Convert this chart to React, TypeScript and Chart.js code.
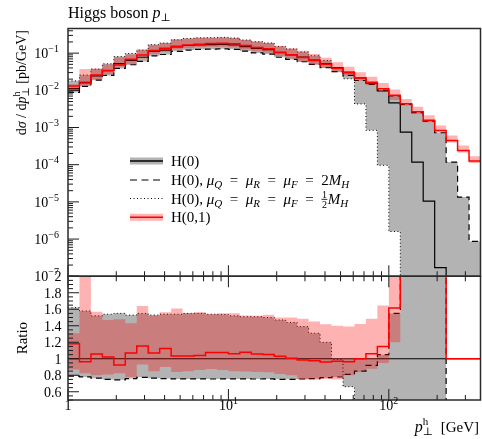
import React, { useEffect, useRef } from 'react';
import { Chart, registerables } from 'chart.js';

Chart.register(...registerables);

// ---------------- data ----------------
// bin edges of the Higgs p_T histogram [GeV] (log-spaced)
const binEdges = [
  1, 1.1788, 1.3895, 1.6379, 1.9307, 2.2758, 2.6827, 3.1623, 3.7276, 4.394, 5.1795, 6.1054, 7.1969, 8.4834,
  10, 11.788, 13.895, 16.379, 19.307, 22.758, 26.827, 31.623, 37.276, 43.94, 51.795, 61.054, 71.969, 84.834,
  100, 117.88, 138.95, 163.79, 193.07, 227.58, 268.27, 316.23, 372.76,
];

// H(0) central  [pb/GeV]
const h0Central = [
  0.0111, 0.0164, 0.0245, 0.0336, 0.0521, 0.0641, 0.0775, 0.1106, 0.1211, 0.1482, 0.1605, 0.1667, 0.1696, 0.1727,
  0.1677, 0.1494, 0.1345, 0.125, 0.1033, 0.0901, 0.0778, 0.0653, 0.0527, 0.0407, 0.031, 0.0216, 0.01558, 0.0096,
  0.0046, 0.00075, 0.000117, 0.0000105, 0.00000017, 0, 0, 0,
];
// H(0), mu = 2 M_H  (dashed)
const h0ScaleUp = [
  0.00877, 0.01279, 0.01874, 0.0252, 0.03881, 0.04872, 0.06006, 0.08461, 0.09204, 0.1119, 0.1212, 0.1259, 0.128, 0.1304,
  0.1266, 0.1128, 0.1015, 0.0944, 0.0775, 0.0676, 0.0587, 0.0496, 0.0406, 0.0317, 0.0251, 0.01836, 0.01433, 0.01008,
  0.00713, 0.00418, 0.0025, 0.00149, 0.000724, 0.0001175, 0.0000135, 0.00000087,
];
// H(0), mu = 1/2 M_H  (dotted)
const h0ScaleDown = [
  0.01798, 0.02591, 0.03724, 0.05174, 0.08076, 0.09807, 0.1201, 0.1692, 0.1865, 0.2282, 0.2488, 0.2584, 0.2612, 0.2651,
  0.2549, 0.2256, 0.2031, 0.1875, 0.1519, 0.1297, 0.1081, 0.0855, 0.0632, 0.0403, 0.0205, 0.0043, 0.00084, 0.000096,
  0.0000016, 0, 0, 0, 0, 0, 0, 0,
];
// H(0,1) central
const h01Central = [
  0.01313, 0.01581, 0.02594, 0.03428, 0.04819, 0.06855, 0.08946, 0.1183, 0.1362, 0.1532, 0.166, 0.1734, 0.1822, 0.1857,
  0.1778, 0.1611, 0.1423, 0.1313, 0.1064, 0.0906, 0.0766, 0.0637, 0.0506, 0.0395, 0.0299, 0.0216, 0.01652, 0.01104,
  0.00743, 0.00436, 0.00266, 0.00158, 0.000836, 0.00045, 0.000242, 0.000126,
];
// H(0,1) uncertainty band
const h01High = [
  0.01454, 0.03772, 0.03847, 0.04939, 0.07711, 0.09166, 0.1271, 0.1681, 0.1895, 0.2386, 0.2488, 0.2609, 0.2612, 0.2677,
  0.2604, 0.2277, 0.2044, 0.1915, 0.155, 0.1352, 0.1155, 0.0947, 0.0748, 0.057, 0.0431, 0.0307, 0.02312, 0.01579,
  0.01058, 0.00589, 0.00359, 0.00213, 0.00113, 0.000608, 0.000327, 0.00017,
];
const h01Low = [
  0.00966, 0.01351, 0.0196, 0.02722, 0.04293, 0.05, 0.07208, 0.094, 0.109, 0.1245, 0.1364, 0.144, 0.1486, 0.1492,
  0.1425, 0.1262, 0.113, 0.1044, 0.0842, 0.0721, 0.05835, 0.0486, 0.0398, 0.0305, 0.0248, 0.01814, 0.01371, 0.00912,
  0.00552, 0.00384, 0.00234, 0.00139, 0.000736, 0.000396, 0.000213, 0.000111,
];

const mainDecades = [-7, -6, -5, -4, -3, -2, -1];
const xDecades = [0, 1, 2];
const ratioTickLabels = [0.6, 0.8, 1, 1.2, 1.4, 1.6, 1.8, 2];
const xTickLabels = [
  { v: 1, base: '1', exp: '' },
  { v: 10, base: '10', exp: '1' },
  { v: 100, base: '10', exp: '2' },
];

// ---------------- layout / style ----------------
const W = 482;
const H = 439;
const LEFT = 68;
const RIGHT_PAD = 1.5;
const TOP = 28.5;
const SPLIT = 276.25;
const BOTTOM = 400;
const X_MIN = 1;
const X_MAX = 372.76;
const Y_MIN = 1e-7;
const Y_MAX = 0.46;
const R_MIN = 0.5;
const R_MAX = 2.0;

const FONT = '"Liberation Serif", "DejaVu Serif", serif';
const GREY = '#b3b3b3';
const PINK = 'rgba(255,0,0,0.3)';
const RED = '#ff0000';

// ---------------- derived tables ----------------
const greyLow = h0Central.map((v, i) => Math.min(v, h0ScaleUp[i], h0ScaleDown[i]));
const greyHigh = h0Central.map((v, i) => Math.max(v, h0ScaleUp[i], h0ScaleDown[i]));
const ratioOf = (arr: number[], fallback: number) =>
  arr.map((v, i) => (h0Central[i] > 0 ? v / h0Central[i] : fallback));
const pos = (v: number) => (v > 0 ? v : 1e-12);

function steps(vals: number[]) {
  const pts = vals.map((v, i) => ({ x: binEdges[i], y: v }));
  pts.push({ x: binEdges[vals.length], y: vals[vals.length - 1] });
  return pts;
}

function lineDs(label: string, vals: number[], extra: any) {
  return {
    label,
    data: steps(vals),
    stepped: 'before',
    pointRadius: 0,
    pointHoverRadius: 0,
    tension: 0,
    fill: false,
    borderWidth: 1.2,
    borderColor: '#000',
    backgroundColor: 'rgba(0,0,0,0)',
    ...extra,
  };
}
const hidden = { borderWidth: 0, borderColor: 'rgba(0,0,0,0)' };

// ---------------- rich text ----------------
type Part = { t?: string; s?: number; it?: boolean; dy?: number; adv?: boolean; frac?: [string, string] };
const fnt = (p: Part) => `${p.it ? 'italic ' : ''}${p.s ?? 15}px ${FONT}`;
function partWidth(ctx: CanvasRenderingContext2D, p: Part) {
  ctx.font = fnt(p);
  if (p.frac) return Math.max(ctx.measureText(p.frac[0]).width, ctx.measureText(p.frac[1]).width) + 1.5;
  return ctx.measureText(p.t || '').width;
}
function drawRich(ctx: CanvasRenderingContext2D, x: number, y: number, parts: Part[], align = 'left') {
  const ws = parts.map((p) => partWidth(ctx, p));
  const total = parts.reduce((acc, p, i) => acc + (p.adv === false ? 0 : ws[i]), 0);
  let cx = align === 'left' ? x : align === 'right' ? x - total : x - total / 2;
  ctx.textAlign = 'left';
  ctx.textBaseline = 'alphabetic';
  parts.forEach((p, i) => {
    ctx.font = fnt(p);
    const dy = p.dy ?? 0;
    if (p.frac) {
      const w = ws[i];
      const w1 = ctx.measureText(p.frac[0]).width;
      const w2 = ctx.measureText(p.frac[1]).width;
      ctx.fillText(p.frac[0], cx + (w - w1) / 2, y + dy - 5.8);
      ctx.fillText(p.frac[1], cx + (w - w2) / 2, y + dy + 4);
      ctx.fillRect(cx + 0.3, y + dy - 4.6, w - 0.6, 0.8);
    } else {
      ctx.fillText(p.t || '', cx, y + dy);
    }
    if (p.adv !== false) cx += ws[i];
  });
  return total;
}

const seg = (ctx: CanvasRenderingContext2D, x1: number, y1: number, x2: number, y2: number) => {
  ctx.beginPath();
  ctx.moveTo(x1, y1);
  ctx.lineTo(x2, y2);
  ctx.stroke();
};

function xTicks(ctx: CanvasRenderingContext2D, xs: any, yEdge: number, dir: number) {
  for (const d of xDecades) {
    for (let m = 1; m <= 9; m++) {
      const v = m * Math.pow(10, d);
      if (v > xs.max) continue;
      const px = xs.getPixelForValue(v);
      seg(ctx, px, yEdge, px, yEdge + dir * (m === 1 ? 11 : 5));
    }
  }
}

// ---------------- plugins ----------------
const mainDecor = {
  id: 'mainDecor',
  afterDraw(chart: any) {
    const ctx: CanvasRenderingContext2D = chart.ctx;
    const a = chart.chartArea;
    const xs = chart.scales.x;
    const ys = chart.scales.y;
    ctx.save();
    ctx.strokeStyle = '#1a1a1a';
    ctx.lineWidth = 1;
    for (const e of mainDecades) {
      for (let m = 1; m <= 9; m++) {
        const v = m * Math.pow(10, e);
        if (v < ys.min * 0.999 || v > ys.max) continue;
        const py = ys.getPixelForValue(v);
        seg(ctx, a.left, py, a.left + (m === 1 ? 11 : 5), py);
      }
    }
    xTicks(ctx, xs, a.bottom, -1);
    ctx.lineWidth = 1.5;
    ctx.strokeStyle = '#2a2a2a';
    ctx.strokeRect(a.left, a.top, a.right - a.left, a.bottom - a.top);

    ctx.fillStyle = '#000';
    // y tick labels
    for (const e of mainDecades) {
      const py = ys.getPixelForValue(Math.pow(10, e));
      drawRich(ctx, 59, py + 4.8, [{ t: '10', s: 14 }, { t: '\u2212' + String(-e), s: 10, dy: -6 }], 'right');
    }
    // title
    drawRich(ctx, 68, 17.5, [{ t: 'Higgs boson ', s: 16 }, { t: 'p', s: 16, it: true }, { t: '\u22A5', s: 11, dy: 3 }]);
    // y axis title
    ctx.save();
    ctx.translate(25.5, 30);
    ctx.rotate(-Math.PI / 2);
    drawRich(
      ctx,
      0,
      0,
      [
        { t: 'd', s: 14 },
        { t: '\u03C3', s: 14, it: true },
        { t: ' / d', s: 14 },
        { t: 'p', s: 14, it: true },
        { t: 'h', s: 10, dy: -6, adv: false },
        { t: '\u22A5', s: 10, dy: 3 },
        { t: ' [pb/GeV]', s: 14 },
      ],
      'right',
    );
    ctx.restore();

    // legend
    const lx0 = 130;
    const lx1 = 163;
    const tx = 171;
    const rows = [161, 180, 198.5, 217.3];
    ctx.fillStyle = GREY;
    ctx.fillRect(lx0, rows[0] - 3.5, lx1 - lx0, 7);
    ctx.strokeStyle = '#000';
    ctx.lineWidth = 1.3;
    seg(ctx, lx0, rows[0], lx1, rows[0]);
    ctx.setLineDash([7, 4.5]);
    ctx.lineWidth = 1.2;
    seg(ctx, lx0, rows[1], lx1, rows[1]);
    ctx.setLineDash([1, 2.5]);
    ctx.lineWidth = 1;
    seg(ctx, lx0, rows[2], lx1, rows[2]);
    ctx.setLineDash([]);
    ctx.fillStyle = PINK;
    ctx.fillRect(lx0, rows[3] - 3.5, lx1 - lx0, 7);
    ctx.strokeStyle = RED;
    ctx.lineWidth = 1.5;
    seg(ctx, lx0, rows[3], lx1, rows[3]);

    ctx.fillStyle = '#000';
    const EQ = '\u2002=\u2002';
    const eqs = (last: Part[]): Part[] => [
      { t: 'H(0), ' },
      { t: '\u03BC', it: true },
      { t: 'Q', s: 11, it: true, dy: 3 },
      { t: EQ },
      { t: '\u03BC', it: true },
      { t: 'R', s: 11, it: true, dy: 3 },
      { t: EQ },
      { t: '\u03BC', it: true },
      { t: 'F', s: 11, it: true, dy: 3 },
      { t: EQ },
      ...last,
      { t: 'M', it: true },
      { t: 'H', s: 11, it: true, dy: 3 },
    ];
    drawRich(ctx, tx, rows[0] + 5, [{ t: 'H(0)' }]);
    drawRich(ctx, tx, rows[1] + 5, eqs([{ t: '2' }]));
    drawRich(ctx, tx, rows[2] + 5, eqs([{ frac: ['1', '2'], s: 10 }]));
    drawRich(ctx, tx, rows[3] + 5, [{ t: 'H(0,1)' }]);
    ctx.restore();
  },
};

const ratioDecor = {
  id: 'ratioDecor',
  afterDraw(chart: any) {
    const ctx: CanvasRenderingContext2D = chart.ctx;
    const a = chart.chartArea;
    const xs = chart.scales.x;
    const ys = chart.scales.y;
    ctx.save();
    ctx.strokeStyle = '#1a1a1a';
    ctx.lineWidth = 1;
    for (let i = 10; i <= 40; i++) {
      const v = i * 0.05;
      const py = ys.getPixelForValue(v);
      seg(ctx, a.left, py, a.left + (i % 4 === 0 ? 11 : 5), py);
    }
    xTicks(ctx, xs, a.top, 1);
    xTicks(ctx, xs, a.bottom, -1);
    ctx.lineWidth = 1.5;
    ctx.strokeStyle = '#2a2a2a';
    ctx.strokeRect(a.left, a.top, a.right - a.left, a.bottom - a.top);

    ctx.fillStyle = '#000';
    for (const v of ratioTickLabels) {
      const py = ys.getPixelForValue(v);
      drawRich(ctx, 61.5, py + 4.8, [{ t: String(v), s: 14 }], 'right');
    }
    for (const t of xTickLabels) {
      const px = xs.getPixelForValue(t.v);
      const parts: Part[] = [{ t: t.base, s: 14 }];
      if (t.exp) parts.push({ t: t.exp, s: 10, dy: -6 });
      drawRich(ctx, px, 410, parts, 'center');
    }
    // x title
    drawRich(
      ctx,
      479,
      432,
      [
        { t: 'p', s: 16, it: true },
        { t: 'h', s: 11, dy: -7, adv: false },
        { t: '\u22A5', s: 11, dy: 3 },
        { t: '  [GeV]', s: 15 },
      ],
      'right',
    );
    // Ratio label
    ctx.save();
    ctx.translate(26.5, (a.top + a.bottom) / 2);
    ctx.rotate(-Math.PI / 2);
    drawRich(ctx, 0, 0, [{ t: 'Ratio', s: 15 }], 'center');
    ctx.restore();
    ctx.restore();
  },
};

function baseOptions(padTop: number, padBottom: number, yScale: any) {
  return {
    responsive: false,
    animation: false,
    events: [],
    layout: { padding: { left: LEFT, right: RIGHT_PAD, top: padTop, bottom: padBottom } },
    scales: {
      x: { type: 'logarithmic', min: X_MIN, max: X_MAX, display: false },
      y: yScale,
    },
    plugins: { legend: { display: false }, tooltip: { enabled: false }, title: { display: false } },
  };
}

export default function App() {
  const mainRef = useRef<HTMLCanvasElement>(null);
  const ratioRef = useRef<HTMLCanvasElement>(null);

  useEffect(() => {
    const mainChart = new Chart(mainRef.current as HTMLCanvasElement, {
      type: 'line',
      data: {
        datasets: [
          lineDs('H(0) band low', greyLow.map(pos), { ...hidden, order: 10 }),
          lineDs('H(0) band high', greyHigh.map(pos), { ...hidden, fill: '-1', backgroundColor: GREY, order: 9 }),
          lineDs('H(0), mu=1/2 MH', h0ScaleDown.map(pos), { borderDash: [1, 2.5], borderWidth: 1, order: 8 }),
          lineDs('H(0), mu=2 MH', h0ScaleUp.map(pos), { borderDash: [6, 4], order: 7 }),
          lineDs('H(0)', h0Central.map(pos), { order: 6 }),
          lineDs('H(0,1) band low', h01Low.map(pos), { ...hidden, order: 5 }),
          lineDs('H(0,1) band high', h01High.map(pos), { ...hidden, fill: '-1', backgroundColor: PINK, order: 4 }),
          lineDs('H(0,1)', h01Central.map(pos), { borderColor: RED, borderWidth: 1.5, order: 3 }),
        ],
      },
      options: baseOptions(TOP, H - SPLIT, { type: 'logarithmic', min: Y_MIN, max: Y_MAX, display: false }) as any,
      plugins: [mainDecor],
    } as any);

    const ratioChart = new Chart(ratioRef.current as HTMLCanvasElement, {
      type: 'line',
      data: {
        datasets: [
          lineDs('H(0) band low', ratioOf(greyLow, 1), { ...hidden, order: 10 }),
          lineDs('H(0) band high', ratioOf(greyHigh, 1), { ...hidden, fill: '-1', backgroundColor: GREY, order: 9 }),
          lineDs('H(0), mu=1/2 MH', ratioOf(h0ScaleDown, 0), { borderDash: [1, 2.5], borderWidth: 1, order: 8 }),
          lineDs('H(0), mu=2 MH', ratioOf(h0ScaleUp, 0), { borderDash: [6, 4], order: 7 }),
          lineDs('H(0)', ratioOf(h0Central, 1), { order: 6 }),
          lineDs('H(0,1) band low', ratioOf(h01Low, 1), { ...hidden, order: 5 }),
          lineDs('H(0,1) band high', ratioOf(h01High, 1), { ...hidden, fill: '-1', backgroundColor: PINK, order: 4 }),
          lineDs('H(0,1)', ratioOf(h01Central, 1), { borderColor: RED, borderWidth: 1.5, order: 3 }),
        ],
      },
      options: baseOptions(SPLIT, H - BOTTOM, { type: 'linear', min: R_MIN, max: R_MAX, display: false }) as any,
      plugins: [ratioDecor],
    } as any);

    return () => {
      mainChart.destroy();
      ratioChart.destroy();
    };
  }, []);

  const cs: React.CSSProperties = { position: 'absolute', left: 0, top: 0, width: W, height: H };
  return (
    <div style={{ position: 'absolute', left: 0, top: 0, width: W, height: H, background: '#fff' }}>
      <canvas ref={mainRef} width={W} height={H} style={cs} />
      <canvas ref={ratioRef} width={W} height={H} style={cs} />
    </div>
  );
}
